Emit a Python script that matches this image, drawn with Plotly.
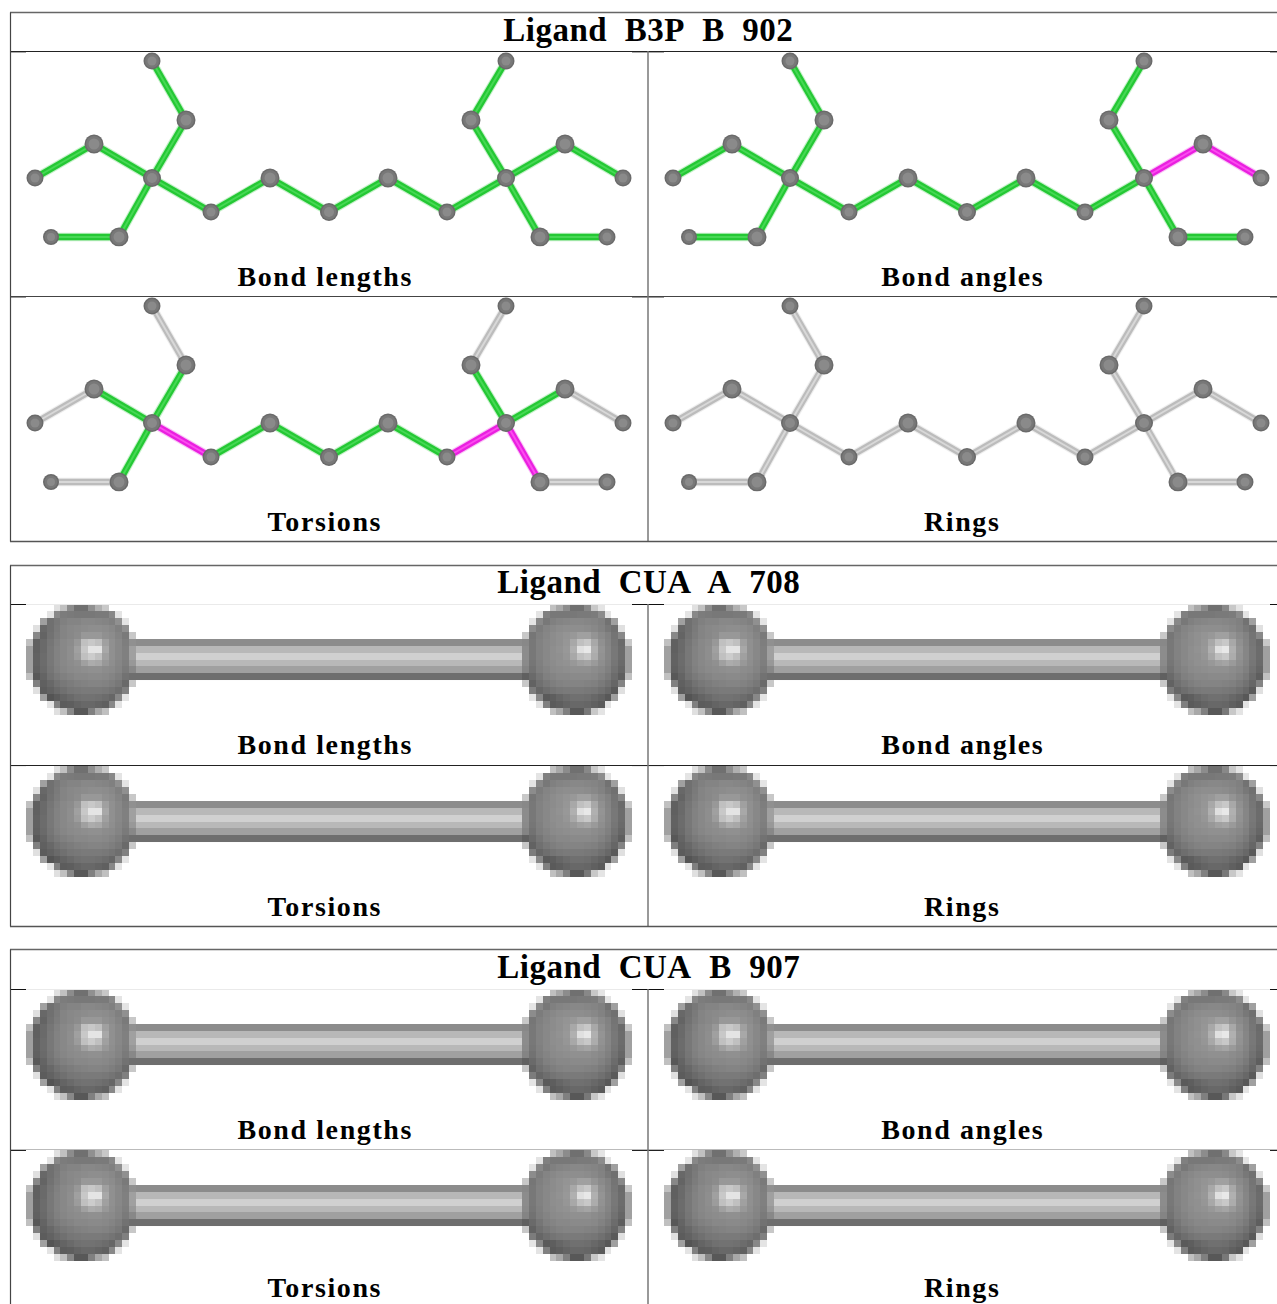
import plotly.graph_objects as go

# ---------- data ----------
BLOCK_TITLES = ["Ligand\u00a0 B3P\u00a0 B\u00a0 902", "Ligand\u00a0 CUA\u00a0 A\u00a0 708", "Ligand\u00a0 CUA\u00a0 B\u00a0 907"]
PANEL_LABELS = ["Bond lengths", "Bond angles", "Torsions", "Rings"]

ATOM_X = [152, 186, 94, 35, 152, 211, 270, 329, 388, 447, 506, 471, 506, 565, 623, 540, 607, 119, 51]
ATOM_Y = [61, 120, 144, 178, 178, 212, 178, 212, 178, 212, 178, 120, 61, 144, 178, 237, 237, 237, 237]
ATOM_D = [17, 19, 19, 17, 18, 17, 19, 18, 19, 17, 18, 19, 17, 19, 17, 19, 17, 19, 16]
BOND_A = [0, 1, 2, 2, 4, 5, 6, 7, 8, 9, 10, 11, 10, 13, 10, 15, 4, 17]
BOND_B = [1, 4, 3, 4, 5, 6, 7, 8, 9, 10, 11, 12, 13, 14, 15, 16, 17, 18]
# g = outlier-free, m = flagged, x = not assessed
STATUS_LENGTHS = list("gggggggggggggggggg")
STATUS_ANGLES = list("ggggggggggggmmgggg")
STATUS_TORSIONS = list("xgxgmggggmgxgxmxgx")
STATUS_RINGS = list("xxxxxxxxxxxxxxxxxx")

_ = None
BALL_LEFT = [
 [_,_,_,_,0xe0,0xc0,0x8c,0x70,0x70,0x90,0xb0,0xc8,_,_,_,_],
 [_,_,_,0xe4,0x88,0x7c,0x7a,0x78,0x78,0x78,0x7a,0x7a,0x88,0xe4,_,_],
 [_,_,0xa0,0x70,0x78,0x80,0x84,0x84,0x88,0x88,0x86,0x84,0x80,0x90,0xe4,_],
 [_,0xe0,0x68,0x70,0x7a,0x84,0x88,0x8a,0x8c,0x8e,0x8e,0x8c,0x88,0x80,0x90,_],
 [_,0x88,0x64,0x72,0x7c,0x84,0x88,0x8c,0x98,0x98,0x98,0x90,0x8c,0x84,0x7a,0xc8],
 [0xc0,0x60,0x6a,0x76,0x80,0x88,0x8c,0x98,0xc0,0xc8,0xc0,0xa0,0x90,0x88,0x7e,0x90],
 [0xa0,0x60,0x6a,0x78,0x82,0x88,0x8e,0xa0,0xc8,0xe4,0xe4,0xa8,0x90,0x88,0x80,0xa0],
 [0xa0,0x62,0x6c,0x78,0x82,0x88,0x8e,0x9c,0xc0,0xcc,0xc0,0xa0,0x90,0x88,0x80,0xa0],
 [0xa0,0x62,0x6c,0x78,0x82,0x88,0x8c,0x90,0xa0,0xac,0xa8,0x98,0x8e,0x86,0x7e,0x98],
 [0xa0,0x60,0x6a,0x76,0x80,0x86,0x8a,0x8c,0x8e,0x90,0x90,0x8c,0x8a,0x84,0x7a,0x88],
 [0xc0,0x58,0x64,0x72,0x7a,0x80,0x84,0x88,0x88,0x8a,0x8a,0x88,0x84,0x7e,0x72,0x6e],
 [_,0x80,0x60,0x68,0x72,0x78,0x7c,0x80,0x82,0x84,0x84,0x82,0x7e,0x78,0x6a,0xc8],
 [_,0xe0,0x5c,0x62,0x6a,0x70,0x76,0x78,0x7a,0x7a,0x7a,0x78,0x74,0x6e,0x80,_],
 [_,_,0xa0,0x54,0x5c,0x64,0x6a,0x70,0x72,0x72,0x70,0x6c,0x66,0x88,0xe4,_],
 [_,_,_,0xe4,0x80,0x5c,0x5e,0x64,0x68,0x68,0x64,0x60,0x88,0xe4,_,_],
 [_,_,_,_,0xe0,0xc0,0x88,0x58,0x58,0x80,0xa8,0xc0,_,_,_,_],
]
BALL_RIGHT = [
 [_,_,_,_,0xc0,0xa8,0x8c,0x70,0x70,0x88,0xc8,0xe4,_,_,_,_],
 [_,_,0xe4,0x80,0x78,0x78,0x78,0x78,0x7a,0x7a,0x7c,0x8c,0xe4,_,_,_],
 [_,0xe4,0x88,0x78,0x80,0x84,0x86,0x88,0x88,0x86,0x84,0x80,0x72,0xa0,_,_],
 [_,0x8c,0x7c,0x84,0x88,0x8c,0x8e,0x8e,0x8e,0x8c,0x88,0x82,0x78,0x70,0xe0,_],
 [0xc8,0x76,0x80,0x86,0x8c,0x90,0x94,0x98,0xa0,0xa0,0x94,0x8a,0x82,0x74,0x88,_],
 [0x88,0x78,0x82,0x88,0x8c,0x90,0x96,0xa8,0xc0,0xc8,0xa8,0x90,0x84,0x76,0x6a,0xc8],
 [0x8c,0x78,0x82,0x88,0x8e,0x92,0x98,0xb0,0xe0,0xe8,0xb0,0x94,0x86,0x78,0x6c,0xa0],
 [0x8c,0x78,0x82,0x88,0x8e,0x90,0x96,0xa8,0xc0,0xc8,0xac,0x92,0x86,0x78,0x6c,0xa0],
 [0x8a,0x76,0x80,0x88,0x8c,0x90,0x92,0x98,0xa0,0xa4,0x9a,0x8e,0x84,0x76,0x6a,0xa0],
 [0x84,0x72,0x7e,0x84,0x8a,0x8c,0x8e,0x90,0x90,0x90,0x8c,0x88,0x80,0x72,0x66,0xa0],
 [0x60,0x6a,0x76,0x80,0x84,0x88,0x88,0x8a,0x8a,0x8a,0x88,0x82,0x7a,0x6c,0x5e,0xc0],
 [0xc8,0x62,0x70,0x78,0x7e,0x82,0x84,0x84,0x84,0x82,0x80,0x7a,0x72,0x66,0x84,_],
 [_,0x7c,0x66,0x6e,0x74,0x78,0x7a,0x7a,0x7a,0x78,0x76,0x70,0x68,0x5a,0xe0,_],
 [_,0xe4,0x88,0x5a,0x5e,0x66,0x6c,0x70,0x70,0x6e,0x68,0x62,0x58,0xa0,_,_],
 [_,_,0xe4,0x80,0x5a,0x5e,0x64,0x68,0x68,0x66,0x60,0x5a,0xe4,_,_,_],
 [_,_,_,_,0xc0,0xa8,0x80,0x58,0x58,0x78,0xc8,0xe4,_,_,_,_],
]
ROD_ROWS = [0x8c, 0xb8, 0xd0, 0xb8, 0xa0, 0x6e]

# ---------- layout constants ----------
W, H = 1277, 1304
FONT = "Liberation Serif"
BOND_COL = {"g": ("#24c834", "#46d854"), "m": ("#ea1fe0", "#fb4cef"), "x": ("#bcbcbc", "#d8d8d8")}
GRAY = [[0, "#000000"], [1, "#ffffff"]]

fig = go.Figure()

def molecule(dx, dy, status):
    for key in "xgm":
        xs, ys = [], []
        for a, b, s in zip(BOND_A, BOND_B, status):
            if s == key:
                xs += [ATOM_X[a] + dx, ATOM_X[b] + dx, None]
                ys += [ATOM_Y[a] + dy, ATOM_Y[b] + dy, None]
        if not xs:
            continue
        base, light = BOND_COL[key]
        for width, col, op in [(8.5, base, 0.25), (6.4, base, 1), (2, light, 1)]:
            fig.add_trace(go.Scatter(x=xs, y=ys, mode="lines", opacity=op, hoverinfo="skip",
                                     line=dict(color=col, width=width)))
    # solid shells: darker rim, mid body, lighter core
    for shrink, col in [(0, "#6a6a6a"), (3, "#787878"), (8, "#8a8a8a")]:
        fig.add_trace(go.Scatter(
            x=[v + dx for v in ATOM_X], y=[v + dy for v in ATOM_Y], mode="markers", hoverinfo="skip",
            marker=dict(size=[d - shrink for d in ATOM_D], color=col, opacity=1, line=dict(width=0))))

def cua(dx, dy):
    fig.add_trace(go.Heatmap(z=[[v, v] for v in ROD_ROWS], x0=136 + dx + 96.5, dx=193,
                             y0=35 + dy + 3.42, dy=6.83, zmin=0, zmax=255, colorscale=GRAY,
                             showscale=False, hoverinfo="skip"))
    for ball, bx in ((BALL_LEFT, 26), (BALL_RIGHT, 522)):
        fig.add_trace(go.Heatmap(z=ball, x0=bx + dx + 3.44, dx=6.875, y0=dy + 3.47, dy=6.94,
                                 zmin=0, zmax=255, colorscale=GRAY, showscale=False, hoverinfo="skip"))

# panels
for col, dx in enumerate((0, 638)):
    molecule(dx, 0, [STATUS_LENGTHS, STATUS_ANGLES][col])
    molecule(dx, 245, [STATUS_TORSIONS, STATUS_RINGS][col])
    for top in (604, 766, 989, 1150):
        cua(dx, top)

shapes = []
def line(x0, y0, x1, y1, color, width=1):
    shapes.append(dict(type="line", xref="x", yref="y", x0=x0, y0=y0, x1=x1, y1=y1, layer="above",
                       line=dict(color=color, width=width)))

# atoms are clipped at the bottom edge of each picture
for y0 in (246.5, 491.5):
    shapes.append(dict(type="rect", xref="x", yref="y", x0=12, x1=W, y0=y0, y1=y0 + 18, layer="above",
                       fillcolor="#ffffff", line=dict(width=0)))

TICKS = [(10.5, 26), (632, 664), (1270, W)]
# (y of rule, rule colour, tick offset, tick colour)
RULES = [(51.5, "#222222", 1, "#aaaaaa"), (296.5, "#444444", 1, "#999999"),
         (604.5, "#eaeaea", 0, "#111111"), (765.5, "#222222", 1, "#eeeeee"),
         (989.5, "#eaeaea", 0, "#111111"), (1149.5, "#bbbbbb", 1, "#222222")]
for y, c, off, tc in RULES:
    line(10.5, y, W, y, c)
    for a, b in TICKS:
        line(a, y + off, b, y + off, tc)

for top, sep, bot in ((12.5, 51, 541.5), (565.5, 604, 926.5), (949.5, 989, H + 2)):
    line(10, top, W, top, "#666666", 1.5)
    line(10.5, top, 10.5, bot, "#444444", 1.2)
    line(648, sep, 648, bot, "#777777", 1.5)
    if bot < H:
        line(10, bot, W, bot, "#555555", 1.5)

# text
ann = []
def text(x, y, s, size):
    ann.append(dict(x=x, y=y, xref="x", yref="y", text=s, showarrow=False, xanchor="center", yanchor="middle",
                    font=dict(family=FONT, size=size, color="#000000")))
for title, y in zip(BLOCK_TITLES, (30, 582, 967)):
    text(648, y, "<b>%s</b>" % title, 33)
for y1, y2 in ((276, 521), (744, 906), (1129, 1287)):
    for lab, x, y in zip(PANEL_LABELS, (325, 962.5, 325, 962.5), (y1, y1, y2, y2)):
        text(x, y, "<b>%s</b>" % lab, 28)

fig.update_layout(width=W, height=H, margin=dict(l=0, r=0, t=0, b=0), showlegend=False,
                  paper_bgcolor="#ffffff", plot_bgcolor="#ffffff", shapes=shapes, annotations=ann,
                  xaxis=dict(range=[0, W], visible=False, fixedrange=True),
                  yaxis=dict(range=[H, 0], visible=False, fixedrange=True))

fig.write_html("out.html", config=dict(displayModeBar=False),
               post_script=("document.body.style.margin='0';document.body.style.overflow='hidden';"
                            "document.querySelectorAll('.annotation-text').forEach(function(t){"
                            "var big=t.textContent.indexOf('Ligand')===0;"
                            "t.style.letterSpacing=big?'0.5px':'1.6px';});"))
